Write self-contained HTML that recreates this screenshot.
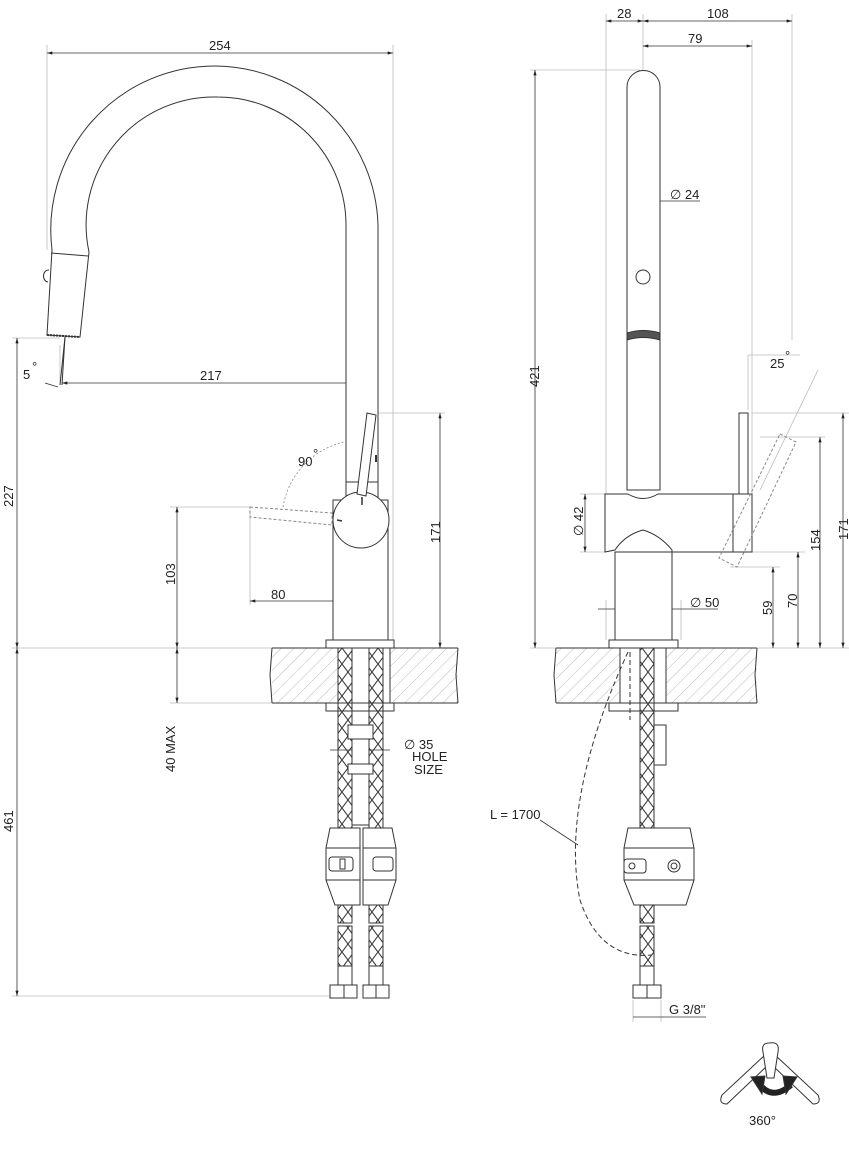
<!DOCTYPE html>
<html><head><style>
html,body{margin:0;padding:0;background:#fff}
svg{display:block}
text{font-family:"Liberation Sans",sans-serif;font-size:13px;fill:#222}
</style></head><body>
<svg width="849" height="1153" viewBox="0 0 849 1153" xmlns="http://www.w3.org/2000/svg">
<defs>
<marker id="a" viewBox="0 0 10 6" refX="10" refY="3" markerWidth="10" markerHeight="4" orient="auto-start-reverse"><path d="M0,0 L10,3 L0,6z" fill="#222"/></marker>
<pattern id="h" width="9" height="9" patternUnits="userSpaceOnUse" patternTransform="rotate(45)"><line x1="0" y1="0" x2="0" y2="9" stroke="#999" stroke-width="0.7"/></pattern>
<pattern id="x" width="12" height="16" patternUnits="userSpaceOnUse"><path d="M0,0 L12,16 M12,0 L0,16" stroke="#333" stroke-width="1"/></pattern>
</defs>
<g fill="none" stroke="#bbb" stroke-width="0.8">
<line x1="47" y1="45" x2="47" y2="250"/><line x1="393" y1="45" x2="393" y2="640"/>
<line x1="12" y1="338" x2="60" y2="338"/><line x1="12" y1="648" x2="272" y2="648"/>
<line x1="12" y1="996" x2="330" y2="996"/><line x1="170" y1="507" x2="250" y2="507"/>
<line x1="170" y1="703" x2="272" y2="703"/><line x1="375" y1="413" x2="445" y2="413"/>
<line x1="250" y1="510" x2="250" y2="605"/><line x1="360" y1="560" x2="360" y2="605"/>
<line x1="60" y1="383" x2="60" y2="345"/><line x1="360" y1="383" x2="360" y2="360"/>
<line x1="606" y1="14" x2="606" y2="494"/><line x1="643" y1="14" x2="643" y2="70"/><line x1="792" y1="14" x2="792" y2="340"/>
<line x1="752" y1="40" x2="752" y2="494"/>
<line x1="530" y1="70" x2="640" y2="70"/><line x1="530" y1="648" x2="556" y2="648"/>
<line x1="757" y1="648" x2="849" y2="648"/>
<line x1="752" y1="413" x2="849" y2="413"/><line x1="760" y1="437" x2="825" y2="437"/>
<line x1="752" y1="552" x2="805" y2="552"/><line x1="730" y1="567" x2="780" y2="567"/>
<line x1="580" y1="494" x2="606" y2="494"/><line x1="580" y1="552" x2="606" y2="552"/>
<line x1="606" y1="600" x2="606" y2="640"/><line x1="681" y1="600" x2="681" y2="640"/>
<line x1="633" y1="1000" x2="633" y2="1022"/><line x1="661" y1="1000" x2="661" y2="1022"/>
<line x1="748" y1="355" x2="800" y2="355"/><line x1="748" y1="355" x2="748" y2="410"/>
<line x1="818" y1="370" x2="760" y2="490"/>
</g>
<g stroke="#333" stroke-width="0.8" fill="none" marker-start="url(#a)" marker-end="url(#a)">
<line x1="47" y1="53" x2="393" y2="53"/>
<line x1="62" y1="383" x2="360" y2="383"/>
<line x1="17" y1="338" x2="17" y2="648"/>
<line x1="17" y1="648" x2="17" y2="996"/>
<line x1="177" y1="507" x2="177" y2="648"/>
<line x1="177" y1="648" x2="177" y2="703"/>
<line x1="440" y1="413" x2="440" y2="648"/>
<line x1="250" y1="601" x2="360" y2="601"/>
<line x1="606" y1="21" x2="643" y2="21"/>
<line x1="643" y1="21" x2="792" y2="21"/>
<line x1="643" y1="46" x2="752" y2="46"/>
<line x1="535" y1="70" x2="535" y2="648"/>
<line x1="820" y1="437" x2="820" y2="648"/>
<line x1="843" y1="413" x2="843" y2="648"/>
<line x1="798" y1="552" x2="798" y2="648"/>
<line x1="773" y1="567" x2="773" y2="648"/>
<line x1="585" y1="494" x2="585" y2="552"/>
</g>
<g stroke="#333" stroke-width="0.8" fill="none">
<line x1="598" y1="609" x2="690" y2="609"/><line x1="690" y1="609" x2="718" y2="609"/>
<line x1="628" y1="201" x2="660" y2="201"/><line x1="660" y1="201" x2="700" y2="201"/>
<line x1="330" y1="750" x2="390" y2="750"/>
<line x1="633" y1="1017" x2="661" y2="1017"/><line x1="661" y1="1017" x2="706" y2="1017"/>
<line x1="540" y1="820" x2="578" y2="845"/>
<path d="M283,507 A80,80 0 0 1 360,440" stroke="#888" stroke-dasharray="2,2"/>
<path d="M45,383 L58,387"/>
</g>
<g stroke="#333" stroke-width="1" fill="#fff">
<path d="M47,335 L52,250 A164,164 0 0 1 215,66 A164,164 0 0 1 378,225 L378,640 L346,640 L346,225 A128,128 0 0 0 218,97 A128,128 0 0 0 89,252 L80,337 Z"/>
<line x1="51" y1="253" x2="88" y2="256"/>
<path d="M49,270 A5,6 0 0 0 48,282" fill="none"/>
<line x1="47" y1="335" x2="80" y2="337" stroke-width="2" stroke-dasharray="2,1"/>
<line x1="65" y1="337" x2="60" y2="385"/><line x1="65" y1="337" x2="62" y2="385"/>
<rect x="333" y="500" width="55" height="140"/>
<circle cx="361" cy="520" r="28"/>
<line x1="346" y1="482" x2="378" y2="482"/>
<path d="M367,413 L376,415 L366,496 L357,494 Z"/>
<line x1="376" y1="455" x2="376" y2="462" stroke-width="2"/>
<line x1="362" y1="497" x2="362" y2="505" stroke-width="1.5"/>
<line x1="337" y1="520" x2="342" y2="521" stroke-width="1.5"/>
<path d="M250,507 L332,513 L332,525 L250,517 Z" stroke="#888" stroke-dasharray="3,2" fill="none"/>
<rect x="272" y="648" width="186" height="55" fill="url(#h)" stroke="none"/>
<line x1="272" y1="648" x2="458" y2="648"/><line x1="272" y1="703" x2="458" y2="703"/>
<path d="M272,648 L270,675 L272,703" fill="none"/><path d="M458,648 L456,675 L458,703" fill="none"/>
<rect x="338" y="648" width="52" height="55"/>
<rect x="326" y="640" width="68" height="8"/>
<rect x="326" y="703" width="68" height="8"/>
<rect x="338" y="648" width="14" height="180" fill="url(#x)"/>
<rect x="369" y="648" width="14" height="180" fill="url(#x)"/>
<rect x="352" y="725" width="17" height="100"/>
<rect x="348" y="725" width="25" height="14"/><rect x="352" y="739" width="17" height="25"/>
<rect x="348" y="764" width="25" height="10"/>
<path d="M330,828 L360,828 L360,905 L335,905 L326,880 L326,848 Z"/>
<path d="M363,828 L392,828 L396,848 L396,880 L388,905 L363,905 Z"/>
<line x1="326" y1="848" x2="360" y2="848"/><line x1="326" y1="880" x2="360" y2="880"/>
<line x1="363" y1="848" x2="396" y2="848"/><line x1="363" y1="880" x2="396" y2="880"/>
<rect x="329" y="857" width="24" height="14" rx="3"/><rect x="340" y="859" width="5" height="10"/>
<rect x="373" y="857" width="20" height="14" rx="3"/>
<rect x="338" y="905" width="14" height="18" fill="url(#x)"/><rect x="369" y="905" width="14" height="18" fill="url(#x)"/>
<rect x="338" y="926" width="14" height="40" fill="url(#x)"/><rect x="369" y="926" width="14" height="40" fill="url(#x)"/>
<rect x="338" y="966" width="14" height="19"/><rect x="369" y="966" width="14" height="19"/>
<rect x="330" y="985" width="14" height="13"/><rect x="344" y="985" width="13" height="13"/>
<rect x="363" y="985" width="13" height="13"/><rect x="376" y="985" width="13" height="13"/>
</g>
<g stroke="#333" stroke-width="1" fill="#fff">
<path d="M627,490 L627,87 A16.5,16.5 0 0 1 660,87 L660,490 Z"/>
<circle cx="643" cy="277" r="7"/>
<path d="M627,333 Q643,328 660,333 L660,340 Q643,335 627,340 Z" fill="#555"/>
<rect x="615" y="552" width="57" height="88"/>
<path d="M605,494 L628,494 Q643,503 658,494 L752,494 L752,552 L672,552 L672,550 Q660,535 643,530 Q625,535 615,550 L605,552 Z"/>
<rect x="733" y="494" width="19" height="58"/>
<rect x="739" y="413" width="9" height="81"/>
<path d="M780,434 L796,442 L737,567 L719,558 Z" stroke="#888" stroke-dasharray="3,2" fill="none"/>
<rect x="556" y="648" width="201" height="55" fill="url(#h)" stroke="none"/>
<line x1="556" y1="648" x2="757" y2="648"/><line x1="556" y1="703" x2="757" y2="703"/>
<path d="M556,648 L554,675 L556,703" fill="none"/><path d="M757,648 L755,675 L757,703" fill="none"/>
<rect x="620" y="648" width="46" height="55"/>
<rect x="609" y="640" width="69" height="8"/>
<rect x="609" y="703" width="69" height="8"/>
<rect x="640" y="648" width="14" height="180" fill="url(#x)"/>
<rect x="654" y="725" width="12" height="40"/>
<path d="M628,828 L690,828 L694,848 L694,880 L686,905 L634,905 L624,880 L624,848 Z"/>
<line x1="624" y1="848" x2="694" y2="848"/><line x1="624" y1="880" x2="694" y2="880"/>
<rect x="624" y="859" width="22" height="14" rx="3"/><circle cx="632" cy="866" r="3"/>
<circle cx="674" cy="866" r="6"/><circle cx="674" cy="866" r="3"/>
<rect x="640" y="905" width="14" height="18" fill="url(#x)"/>
<rect x="640" y="926" width="14" height="40" fill="url(#x)"/>
<rect x="640" y="966" width="14" height="19"/>
<rect x="633" y="985" width="28" height="13"/><line x1="647" y1="985" x2="647" y2="998"/>
<path d="M628,652 Q560,800 580,900 Q600,960 652,955" fill="none" stroke-dasharray="5,3"/>
<path d="M630,652 L630,720" fill="none" stroke-dasharray="5,3"/>
</g>
<g stroke="#333" stroke-width="1" fill="#fff">
<path d="M765,1055 L722,1095 Q718,1104 727,1104 L767,1066 Z"/>
<path d="M775,1055 L818,1095 Q822,1104 813,1104 L773,1066 Z"/>
<path d="M769,1043 Q780,1041 778,1052 L774,1078 L767,1078 L763,1052 Q761,1043 769,1043 Z"/>
<path d="M758,1082 Q771,1102 791,1085" stroke="#222" stroke-width="6" fill="none"/>
<path d="M751,1077 L762,1094 L765,1076 Z M797,1077 L786,1094 L783,1076 Z" fill="#222"/>
</g>
<text x="209" y="50">254</text>
<text x="200" y="380">217</text>
<text x="23" y="379">5</text><text x="32" y="371" font-size="7">°</text>
<text x="298" y="466">90</text><text x="313" y="458" font-size="7">°</text>
<text x="271" y="599">80</text>
<text transform="translate(13,507) rotate(-90)">227</text>
<text transform="translate(13,832) rotate(-90)">461</text>
<text transform="translate(175,585) rotate(-90)">103</text>
<text transform="translate(175,772) rotate(-90)">40 MAX</text>
<text transform="translate(440,543) rotate(-90)">171</text>
<text x="404" y="749">∅ 35</text>
<text x="412" y="761">HOLE</text><text x="414" y="774">SIZE</text>
<text x="617" y="18">28</text><text x="707" y="18">108</text><text x="688" y="43">79</text>
<text x="670" y="199">∅ 24</text>
<text x="770" y="368">25</text><text x="785" y="360" font-size="7">°</text>
<text transform="translate(539,387) rotate(-90)">421</text>
<text transform="translate(583,536) rotate(-90)">∅ 42</text>
<text x="690" y="607">∅ 50</text>
<text transform="translate(772,615) rotate(-90)">59</text>
<text transform="translate(797,608) rotate(-90)">70</text>
<text transform="translate(820,551) rotate(-90)">154</text>
<text transform="translate(848,540) rotate(-90)">171</text>
<text x="490" y="819">L = 1700</text>
<text x="669" y="1014">G 3/8"</text>
<text x="749" y="1125" font-size="17">360°</text>
</svg>
</body></html>
